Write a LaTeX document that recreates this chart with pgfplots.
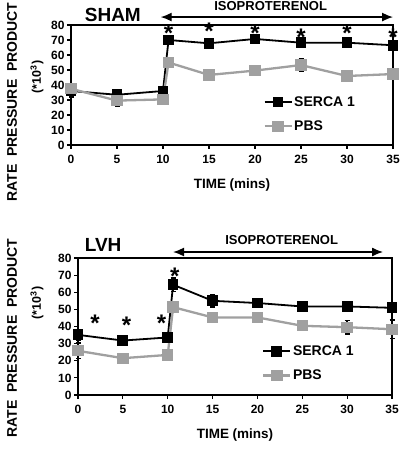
\documentclass[border=0pt]{standalone}
\usepackage{fontspec}
\setmainfont{Liberation Sans}
\usepackage{pgfplots}
\pgfplotsset{compat=1.18}
\usetikzlibrary{arrows.meta}
\definecolor{pbsgray}{RGB}{160,160,160}
\tikzset{ast/.style={font=\fontsize{24}{24}\selectfont\bfseries, inner sep=0pt, yshift=-5pt}}
\pgfplotsset{
  rpp/.style={
    scale only axis, clip=false,
    xmin=0, xmax=35, ymin=0, ymax=80,
    xtick={0,5,...,35}, ytick={0,10,...,80},
    tick align=outside, xtick pos=bottom, ytick pos=left,
    major tick length=4pt,
    axis line style={line width=1.3pt},
    tick style={line width=1.2pt, black},
    /pgf/number format/assume math mode=true,
    ticklabel style={font=\fontsize{12}{14}\selectfont\bfseries},
    xticklabel style={yshift=-3pt},
    yticklabel style={xshift=1pt},
    xlabel={TIME (mins)},
    xlabel style={font=\fontsize{13.5}{15}\selectfont\bfseries, at={(axis description cs:0.5,0)}, anchor=center, yshift=-40pt},
    legend cell align=left,
    legend style={draw=none, fill=none, inner sep=0pt, row sep=10pt,
      font=\fontsize{14}{16}\selectfont\bfseries,
      nodes={inner sep=1.5pt}},
    legend image code/.code={
      \draw[mark repeat=2,mark phase=2,#1] plot coordinates {(0pt,0pt)(13.5pt,0pt)(27pt,0pt)};},
  },
  serca/.style={black, line width=1.8pt, mark=square*, mark size=4.5pt,
    mark options={solid},
    error bars/.cd, y dir=both, y explicit,
    error bar style={line width=1.5pt, black},
    error mark options={rotate=90, mark size=2.5pt, line width=1.5pt, black}},
  pbs/.style={pbsgray, line width=2.3pt, mark=square*, mark size=4.5pt,
    mark options={solid},
    error bars/.cd, y dir=both, y explicit,
    error bar style={line width=1.5pt, black},
    error mark options={rotate=90, mark size=2.5pt, line width=1.5pt, black}},
}
\begin{document}
\begin{tikzpicture}
\path[use as bounding box] (0,0) rectangle (400pt,450pt);
% ---------- SHAM ----------
\begin{axis}[rpp, at={(71pt,305pt)}, anchor=south west, width=322pt, height=120pt,
  legend style={at={(0.597,0.258)}, anchor=west}]
\addplot[serca] coordinates {
 (0,36) +- (0,4) (5,33.5) +- (0,2) (10,36) +- (0,2) (10.6,70) +- (0,3)
 (15,67.8) +- (0,2) (20,70.7) +- (0,2) (25,68.2) +- (0,2) (30,68.2) +- (0,2) (35,66.5) +- (0,2)};
\addlegendentry{SERCA 1}
\addplot[pbs] coordinates {
 (0,37.5) +- (0,2) (5,29.6) +- (0,3.5) (10,30.4) +- (0,2.5) (10.6,55) +- (0,3)
 (15,46.7) +- (0,2) (20,49.6) +- (0,2) (25,53.3) +- (0,4) (30,46) +- (0,2) (35,47.3) +- (0,2)};
\addlegendentry{PBS}
\node[ast] at (axis cs:10.6,78) {*};
\node[ast] at (axis cs:15,79) {*};
\node[ast] at (axis cs:20,78) {*};
\node[ast] at (axis cs:25,75.5) {*};
\node[ast] at (axis cs:30,78) {*};
\node[ast] at (axis cs:35,75.5) {*};
\draw[{Latex[length=11pt,width=9pt]}-{Latex[length=11pt,width=9pt]}, line width=1.3pt]
  (axis cs:9.75,85.3) -- (axis cs:35,85.3);
\node[font=\fontsize{13}{15}\selectfont\bfseries] at (axis cs:21.7,92.6) {ISOPROTERENOL};
\node[font=\fontsize{19}{21}\selectfont\bfseries] at (axis cs:4.55,86.7) {SHAM};
\end{axis}
% ---------- LVH ----------
\begin{axis}[rpp, at={(78pt,55pt)}, anchor=south west, width=314pt, height=137pt,
  legend style={at={(0.586,0.23)}, anchor=west}]
\addplot[serca] coordinates {
 (0,35.1) +- (0,3) (5,31.8) +- (0,2) (10,33.6) +- (0,2) (10.6,64.4) +- (0,4)
 (15,55) +- (0,3.5) (20,53.7) +- (0,2) (25,51.7) +- (0,2) (30,51.7) +- (0,2) (35,50.9) +- (0,2)};
\addlegendentry{SERCA 1}
\addplot[pbs] coordinates {
 (0,25.8) +- (0,4.5) (5,21.5) +- (0,1) (10,23.4) +- (0,3) (10.6,51.3) +- (0,2)
 (15,45.3) +- (0,3) (20,45.3) +- (0,3) (25,40.4) +- (0,2) (30,39.6) +- (0,4) (35,38.4) +- (0,5.5)};
\addlegendentry{PBS}
\node[ast] at (axis cs:1.9,44.8) {*};
\node[ast] at (axis cs:5.4,43.8) {*};
\node[ast] at (axis cs:9.3,44.8) {*};
\node[ast] at (axis cs:10.8,72) {*};
\draw[{Latex[length=11pt,width=9pt]}-{Latex[length=11pt,width=9pt]}, line width=1.3pt]
  (axis cs:10.6,83.5) -- (axis cs:34,83.5);
\node[font=\fontsize{13}{15}\selectfont\bfseries] at (axis cs:22.7,90.5) {ISOPROTERENOL};
\node[font=\fontsize{19}{21}\selectfont\bfseries] at (axis cs:2.8,87.6) {LVH};
\end{axis}
% ---------- y labels ----------
\node[rotate=90, font=\fontsize{14}{16}\selectfont\bfseries] at (12pt,348pt) {RATE\ \ PRESSURE\ \ PRODUCT};
\node[rotate=90, font=\fontsize{14}{16}\selectfont\bfseries] at (12pt,112pt) {RATE\ \ PRESSURE\ \ PRODUCT};
\node[rotate=90, font=\fontsize{12.5}{14}\selectfont\bfseries] at (37pt,373pt) {(*10\textsuperscript{3})};
\node[rotate=90, font=\fontsize{12.5}{14}\selectfont\bfseries] at (37pt,147pt) {(*10\textsuperscript{3})};
\end{tikzpicture}
\end{document}
